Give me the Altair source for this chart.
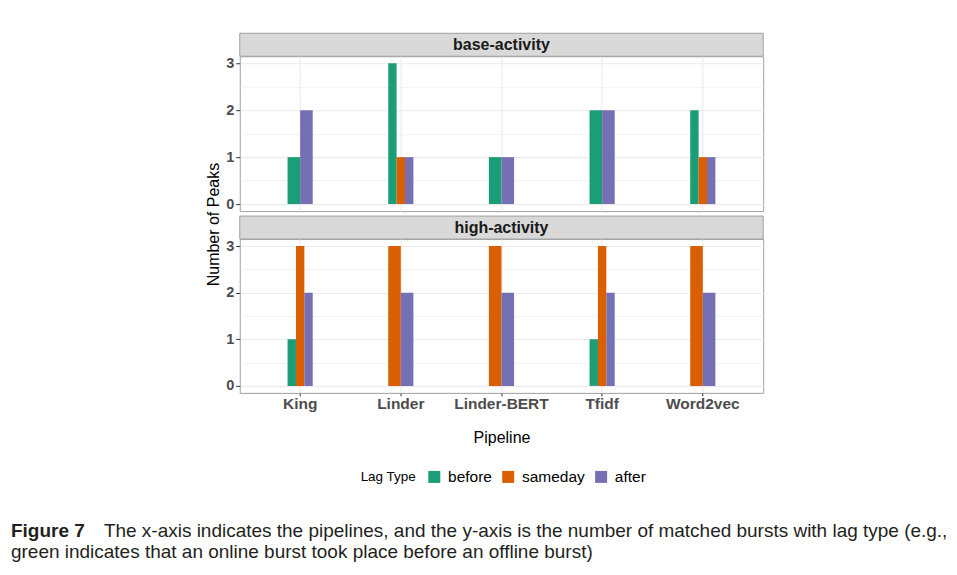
import altair as alt
import pandas as pd

# ---------------- data ----------------
pipelines = ["King", "Linder", "Linder-BERT", "Tfidf", "Word2vec"]
lag_types = ["before", "sameday", "after"]
lag_colors = ["#1B9E77", "#D95F02", "#7570B3"]
facets = ["base-activity", "high-activity"]

# number of peaks per pipeline (0 = no bar drawn)
base_before = [1, 3, 1, 2, 2]
base_sameday = [0, 1, 0, 0, 1]
base_after = [2, 1, 1, 2, 1]
high_before = [1, 0, 0, 1, 0]
high_sameday = [3, 3, 3, 3, 3]
high_after = [2, 2, 2, 2, 2]

y_values = [0, 0.5, 1, 1.5, 2, 2.5, 3]

caption_label = "Figure 7"
caption_line1 = ("The x-axis indicates the pipelines, and the y-axis is the number of "
                 "matched bursts with lag type (e.g.,")
caption_line2 = "green indicates that an online burst took place before an offline burst)"

values = {
    "base-activity": {"before": base_before, "sameday": base_sameday, "after": base_after},
    "high-activity": {"before": high_before, "sameday": high_sameday, "after": high_after},
}

rows = []
for f in facets:
    for i, p in enumerate(pipelines):
        present = [(lt, values[f][lt][i]) for lt in lag_types if values[f][lt][i] > 0]
        for slot, (lt, v) in enumerate(present):
            rows.append(dict(facet=f, pipeline=p, lag=lt, peaks=v, n=len(present), slot=slot))
df = pd.DataFrame(rows)

FONT = "Liberation Sans"
W = 524
BORDER = "#a0a0a0"
GRID = "#EBEBEB"
STRIP_FILL = "#d9d9d9"

minor_test = "datum.value % 1 != 0"


def panel(facet, h, bottom):
    if bottom:
        xaxis = alt.Axis(title="Pipeline", bandPosition=0.5, grid=True, gridColor=GRID,
                         gridWidth=1.1, domain=False, labelAngle=0, labelFont=FONT,
                         labelFontSize=15.5, labelFontWeight="bold", labelColor="#4d4d4d",
                         labelPadding=1, tickSize=3, tickColor="#333333",
                         titleFont=FONT, titleFontSize=16, titleFontWeight="normal",
                         titleColor="#000000", titlePadding=17)
    else:
        xaxis = alt.Axis(title=None, bandPosition=0.5, grid=True, gridColor=GRID,
                         gridWidth=1.1, domain=False, labels=False, ticks=False)
    yaxis_kwargs = dict(values=y_values,
                        labelExpr="datum.value % 1 == 0 ? format(datum.value, 'd') : ''",
                        grid=True, gridColor=GRID,
                        gridWidth={"condition": {"test": minor_test, "value": 0.6}, "value": 1.1},
                        tickOpacity={"condition": {"test": minor_test, "value": 0}, "value": 1},
                        domain=False, tickSize=4, tickColor="#333333",
                        labelFont=FONT, labelFontSize=14.5, labelFontWeight="bold",
                        labelColor="#4d4d4d", labelPadding=2)
    if bottom:
        yaxis = alt.Axis(title=None, **yaxis_kwargs)
    else:
        yaxis = alt.Axis(title="Number of Peaks", titleFont=FONT, titleFontSize=16,
                         titleFontWeight="normal", titleColor="#000000", titlePadding=4,
                         titleY=168, **yaxis_kwargs)

    xenc = alt.X("pipeline:N", sort=pipelines,
                 scale=alt.Scale(domain=pipelines, paddingInner=0.75, paddingOuter=0.475),
                 axis=xaxis)
    yenc = alt.Y("peaks:Q", scale=alt.Scale(domain=[-0.15, 3.15], nice=False, zero=False),
                 axis=yaxis)
    color = alt.Color("lag:N", scale=alt.Scale(domain=lag_types, range=lag_colors),
                      legend=alt.Legend(title="Lag Type", orient="none", legendX=121,
                                        legendY=436, direction="horizontal",
                                        titleOrient="left", symbolType="square",
                                        symbolSize=144, symbolStrokeWidth=0,
                                        labelFont=FONT, labelFontSize=15.5,
                                        labelColor="#000000", titleFont=FONT,
                                        titleFontSize=13.5, titleFontWeight="normal",
                                        titleColor="#000000", labelOffset=6,
                                        columnPadding=8, titlePadding=10))
    base = alt.Chart(df).transform_filter(alt.datum.facet == facet)
    layers = []
    for n in (2, 3):
        layers.append(
            base.transform_filter(alt.datum.n == n).mark_bar().encode(
                x=xenc, y=yenc, y2=alt.datum(0), color=color,
                xOffset=alt.XOffset("slot:O",
                                    scale=alt.Scale(domain=list(range(n)),
                                                    paddingInner=0, paddingOuter=0)),
            )
        )
    return alt.layer(*layers).resolve_scale(xOffset="independent").properties(
        width=W, height=h,
        view=alt.ViewBackground(fill="white", stroke=BORDER, strokeWidth=1))


strip_df = pd.DataFrame({"facet": facets})


def strip(facet, gap):
    # gap: empty space above the strip box (pixels)
    src = alt.Chart(strip_df).transform_filter(alt.datum.facet == facet)
    box = src.mark_rect(fill=STRIP_FILL, stroke=BORDER, strokeWidth=1).encode(
        x=alt.value(0), x2=alt.value(W), y=alt.value(gap), y2=alt.value(gap + 23))
    label = src.mark_text(font=FONT, fontSize=16, fontWeight="bold", color="#1a1a1a",
                          baseline="middle").encode(
        x=alt.value(W / 2), y=alt.value(gap + 12), text="facet:N")
    return alt.layer(box, label).properties(
        width=W, height=gap + 23,
        view=alt.ViewBackground(fill="transparent", stroke="transparent"))


cap_df = pd.DataFrame({"label": [caption_label], "line1": [caption_line1],
                       "line2": [caption_line2]})
CAPFONT = "Liberation Sans"
CAPSIZE = 19
cap_base = alt.Chart(cap_df)
caption = alt.layer(
    cap_base.mark_text(align="left", baseline="alphabetic", font=CAPFONT, fontSize=CAPSIZE,
                       fontWeight="bold", color="#231f20").encode(
        x=alt.value(-229), y=alt.value(144), text="label:N"),
    cap_base.mark_text(align="left", baseline="alphabetic", font=CAPFONT, fontSize=CAPSIZE,
                       color="#231f20").encode(
        x=alt.value(-136), y=alt.value(144), text="line1:N"),
    cap_base.mark_text(align="left", baseline="alphabetic", font=CAPFONT, fontSize=CAPSIZE,
                       color="#231f20").encode(
        x=alt.value(-229), y=alt.value(165), text="line2:N"),
).properties(width=W, height=150,
             view=alt.ViewBackground(fill="transparent", stroke="transparent"))

chart = alt.vconcat(
    strip("base-activity", 0),
    panel("base-activity", 155, False),
    strip("high-activity", 5),
    panel("high-activity", 154, True),
    caption,
    spacing=0, bounds="flush",
).resolve_scale(
    x="independent", y="independent", xOffset="independent"
).properties(
    padding={"left": 2, "top": 24, "right": 0, "bottom": 0},
    background="white",
).configure_view(stroke=BORDER).configure(font=FONT)

chart.save("out.html", embed_options={"renderer": "svg", "actions": False})
